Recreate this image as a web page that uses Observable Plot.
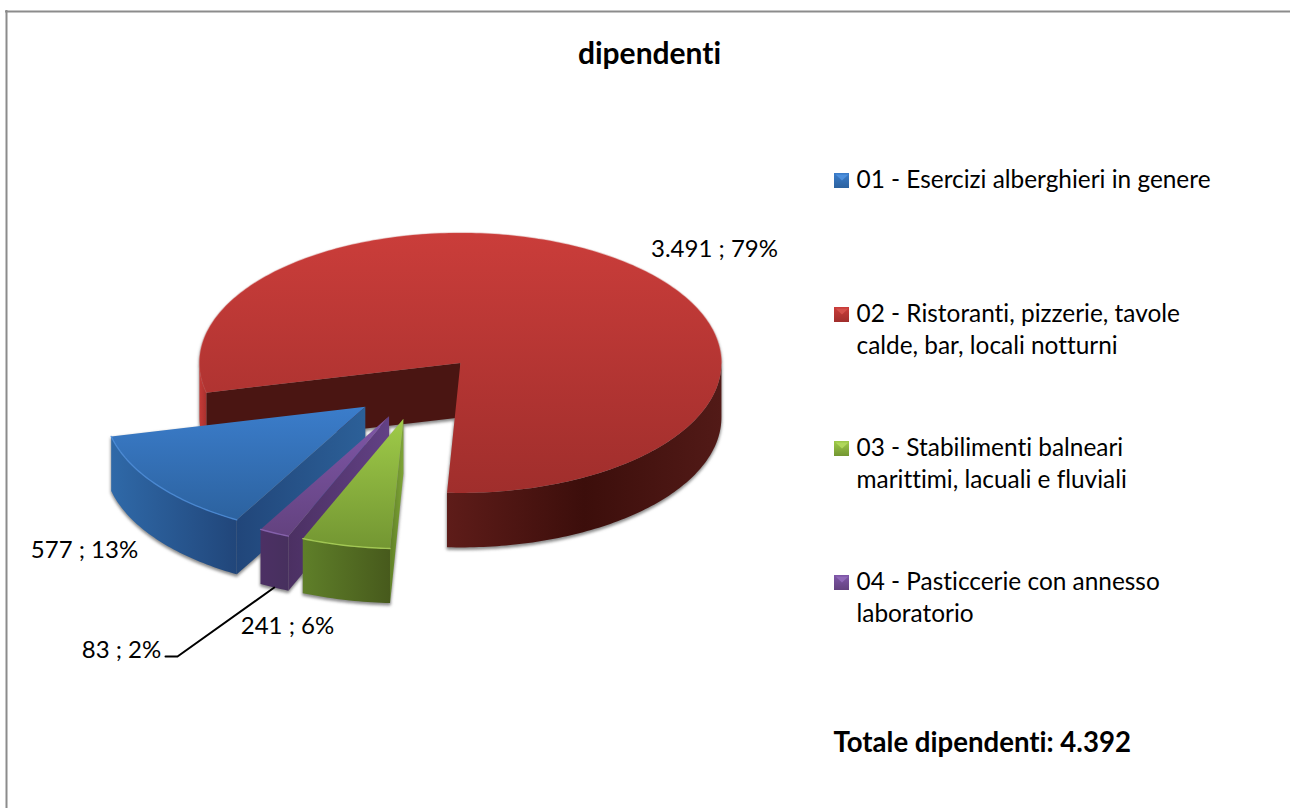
<!DOCTYPE html>
<html lang="it">
<head>
<meta charset="utf-8">
<title>dipendenti</title>
<script src="https://cdn.jsdelivr.net/npm/d3@7"></script>
<script src="https://cdn.jsdelivr.net/npm/@observablehq/plot@0.6"></script>
<style>
html,body{margin:0;padding:0;background:#fff}
svg{display:block}
svg text{font-variant-ligatures:none;font-feature-settings:"liga" 0}
</style>
</head>
<body>
<div id="chart"></div>
<script>
// ---- data ----
const chartTitle = "dipendenti";
const categories = [
  "01 - Esercizi alberghieri in genere",
  "02 - Ristoranti, pizzerie, tavole\ncalde, bar, locali notturni",
  "03 - Stabilimenti balneari\nmarittimi, lacuali e fluviali",
  "04 - Pasticcerie con annesso\nlaboratorio"
];
const values = [577, 3491, 241, 83];
const valueLabels = ["577", "3.491", "241", "83"];
const percentLabels = ["13%", "79%", "6%", "2%"];
const totalLabel = "Totale dipendenti: 4.392";

// ---- layout ----
const W = 1290, H = 808;
const font = "Lato, Carlito, Calibri, sans-serif";
const fs = 24.4, labelFs = 24;
const cx = 417.6, cy = 387, rx = 261, ry = 130, depth = 54.5, explodeX = 66, explodeY = 32;
const startAngle = 209.5;
const drawOrder = [1, 0, 3, 2];
const total = d3.sum(values);
const rad = d => d * Math.PI / 180;

const looks = [
  {top:["#3b7dcb","#2c629f"], rim:"#4d8fdc", rimOpacity:0.8, outer:["#2f69a8","#21467a"], cut:["#21467a","#2c6098"]},
  {top:["#ca3d3a","#a02e2c"], rim:"#d4504b", rimOpacity:0.3, outer:["#5e1c19","#3c0e0b","#521a17"], cut:["#4a1512","#4a1512"]},
  {top:["#9fcb49","#739632"], rim:"#afd75a", rimOpacity:0.8, outer:["#5f7f29","#475a1c"], cut:["#5f8026","#7fa538"]},
  {top:["#7f57a8","#63427f"], rim:"#9069b8", rimOpacity:0.8, outer:["#4c3064","#47305e"], cut:["#4b3062","#624185"]}
];
const legendY = [180, 314, 448, 582];
const labelPos = [
  {x:84, y:550}, {x:714, y:249}, {x:287, y:626}, {x:121, y:650}
];

// ---- geometry derived from the values ----
let acc = startAngle;
const slices = values.map((v, i) => {
  const a0 = acc, a1 = acc + v / total * 360; acc = a1;
  const m = rad((a0 + a1) / 2);
  const ox = cx + explodeX * Math.sin(m), oy = cy - explodeY * Math.cos(m);
  const pt = (a, dz = 0) => ({x: ox + rx * Math.sin(rad(a)), y: oy - ry * Math.cos(rad(a)) + dz});
  const arc = (p, q, dz = 0) => {
    const n = Math.max(2, Math.ceil(Math.abs(q - p)));
    return d3.range(n + 1).map(k => pt(p + (q - p) * k / n, dz));
  };
  return {i, a0, a1, ox, oy, pt, arc, c: {x: ox, y: oy}, cb: {x: ox, y: oy + depth}};
});
const wallBetween = (s, p, q) => [...s.arc(p, q), ...s.arc(q, p, depth)];
const radial = (s, a) => [s.c, s.pt(a), s.pt(a, depth), s.cb];

const polys = [];   // {pts, fill}
const silhouettes = [];
function add(pts, fill) { polys.push({pts, fill}); silhouettes.push(pts); }

drawOrder.forEach(i => {
  const s = slices[i];
  const id = k => `url(#g${i}${k})`;
  const top = [s.c, ...s.arc(s.a0, s.a1)];
  if (i === 1) {
    add(radial(s, s.a0), id("cut"));                     // inner wall, seen through the gap
    add(wallBetween(s, s.a0, 270), "url(#redleft)");     // small outer strip at the left
    add(wallBetween(s, 450, s.a1), id("outer"));         // outer wall, right to bottom
  } else {
    add(wallBetween(s, s.a0, s.a1), id("outer"));
    add(radial(s, s.a0), id("cut"));                     // wall facing right
  }
  add(top, id("top"));
  polys.push({rim: true, i, pts: i === 1 ? s.arc(s.a0, 450) : s.arc(s.a0, s.a1)});
});

// ---- marks ----
function defsMark() {
  const svgNS = "http://www.w3.org/2000/svg";
  const defs = document.createElementNS(svgNS, "defs");
  const grad = (id, cols, horiz) => {
    const g = document.createElementNS(svgNS, "linearGradient");
    g.setAttribute("id", id);
    g.setAttribute("x1", "0"); g.setAttribute("y1", "0");
    g.setAttribute("x2", horiz ? "1" : "0"); g.setAttribute("y2", horiz ? "0" : "1");
    cols.forEach((c, k) => {
      const st = document.createElementNS(svgNS, "stop");
      st.setAttribute("offset", k / (cols.length - 1));
      st.setAttribute("stop-color", c);
      g.appendChild(st);
    });
    defs.appendChild(g);
  };
  looks.forEach((l, i) => {
    grad(`g${i}top`, l.top, false);
    grad(`g${i}outer`, l.outer, true);
    grad(`g${i}cut`, l.cut, true);
  });
  grad("redleft", ["#c53b38", "#a8312e"], true);
  const f = document.createElementNS(svgNS, "filter");
  f.setAttribute("id", "soft");
  f.setAttribute("x", "-10%"); f.setAttribute("y", "-10%");
  f.setAttribute("width", "120%"); f.setAttribute("height", "120%");
  const b = document.createElementNS(svgNS, "feGaussianBlur");
  b.setAttribute("stdDeviation", "1.6");
  f.appendChild(b); defs.appendChild(f);
  return defs;
}

const blurred = (index, scales, values, dims, context, next) => {
  const g = next(index, scales, values, dims, context);
  g.setAttribute("filter", "url(#soft)");
  return g;
};

const shadowRows = silhouettes.flatMap((pts, z) => pts.concat([pts[0]]).map(p => ({x: p.x, y: p.y + 2, z})));

const legendRows = categories.flatMap((c, i) =>
  c.split("\n").map((t, k) => ({t, x: 856, y: legendY[i] + k * 32})));
const labelRows = values.map((v, i) => ({t: `${valueLabels[i]} ; ${percentLabels[i]}`, ...labelPos[i]}));

const swatchSize = 15;
const swatchRows = legendY.map((y, i) => ({i, x1: 834, x2: 834 + swatchSize, y1: y - 7, y2: y - 7 + swatchSize}));

const p4 = slices[3];
const leaderStart = p4.pt((p4.a0 + p4.a1) / 2, depth);
const leader = [leaderStart, {x: 177, y: 656}, {x: 165, y: 656}];

const chart = Plot.plot({
  width: W, height: H, margin: 0,
  style: {background: "#fff", fontFamily: font},
  x: {domain: [0, W], range: [0, W], axis: null},
  y: {domain: [0, H], range: [0, H], axis: null},
  marks: [
    defsMark,
    // frame of the chart area
    Plot.ruleX([6], {y1: 10, y2: H, stroke: "#8c8c8c", strokeWidth: 2}),
    Plot.ruleY([11], {x1: 5, x2: W, stroke: "#8c8c8c", strokeWidth: 2}),
    // soft shadow
    Plot.line(shadowRows, {x: "x", y: "y", z: "z", fill: "#8a8a8a", stroke: "#8a8a8a", strokeWidth: 1, render: blurred}),
    // pie faces, back to front
    ...polys.map(p => p.rim
      ? Plot.line(p.pts, {x: "x", y: "y", stroke: looks[p.i].rim, strokeWidth: 1.4, strokeOpacity: looks[p.i].rimOpacity})
      : Plot.line(p.pts.concat([p.pts[0]]), {x: "x", y: "y", fill: p.fill, stroke: "none"})),
    // leader
    Plot.line(leader, {x: "x", y: "y", stroke: "#000", strokeWidth: 2}),
    // data labels
    Plot.text(labelRows, {x: "x", y: "y", text: "t", fontSize: labelFs, fill: "#000", fontFamily: font}),
    // legend
    ...swatchRows.flatMap(r => [
      Plot.rect([r], {x1: "x1", x2: "x2", y1: "y1", y2: "y2", fill: `url(#g${r.i}top)`}),
      Plot.line([{x: r.x1 + 1, y: r.y1 + 1}, {x: r.x2 - 1, y: r.y1 + 1}, {x: (r.x1 + r.x2) / 2, y: r.y1 + 7}, {x: r.x1 + 1, y: r.y1 + 1}],
        {x: "x", y: "y", fill: looks[r.i].rim, stroke: "none"})
    ]),
    Plot.text(legendRows, {x: "x", y: "y", text: "t", textAnchor: "start", fontSize: fs, fill: "#000", fontFamily: font}),
    // title and total
    Plot.text([chartTitle], {x: () => 649, y: () => 54, text: d => d, fontSize: 30, fontWeight: 700, fill: "#000", fontFamily: font}),
    Plot.text([totalLabel], {x: () => 833, y: () => 743, text: d => d, textAnchor: "start", fontSize: 27.6, fontWeight: 700, fill: "#000", fontFamily: font})
  ]
});
document.getElementById("chart").append(chart);
</script>
</body>
</html>
